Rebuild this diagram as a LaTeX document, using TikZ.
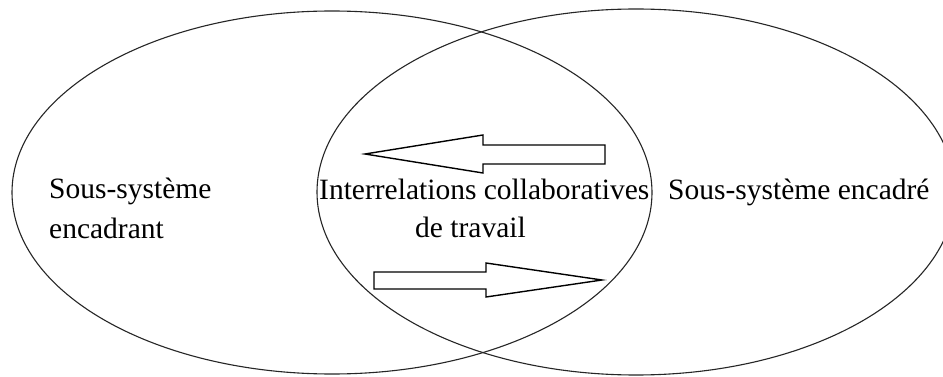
\documentclass[tikz,border=0pt]{standalone}
\usepackage{fontspec}
\setmainfont{Liberation Serif}
\begin{document}
\begin{tikzpicture}[x=1pt,y=-1pt,
  ring/.style={draw=black!85,line width=1.1pt},
  blockarrow/.style={draw=black,line width=1.4pt,line join=miter,fill=white},
  label/.style={anchor=base west,inner sep=0pt,font=\fontsize{29.5}{37}\selectfont}]
\useasboundingbox (0,0) rectangle (943,377);
\clip (0,0) rectangle (943,377);
\fill[white] (0,0) rectangle (943,377);
% ellipses
\draw[ring] (332,192.5) ellipse [x radius=320, y radius=181.5];
\draw[ring] (636,192) ellipse [x radius=319, y radius=183];
% block arrows
\draw[blockarrow] (365,154) -- (483,135) -- (483,145) -- (605,145) -- (605,164) -- (483,164) -- (483,173) -- cycle;
\draw[blockarrow] (602,280) -- (486,263) -- (486,272) -- (374,272) -- (374,289) -- (486,289) -- (486,297) -- cycle;
% labels
\node[label] (l1) at (49,199) {Sous-système};
\node[label] (l2) at (49,238) {encadrant};
\node[label] (c1) at (319,200) {Interrelations collaboratives};
\node[label] (c2) at (415,237) {de travail};
\node[label] (r1) at (668,200) {Sous-système encadré};
\end{tikzpicture}
\end{document}
